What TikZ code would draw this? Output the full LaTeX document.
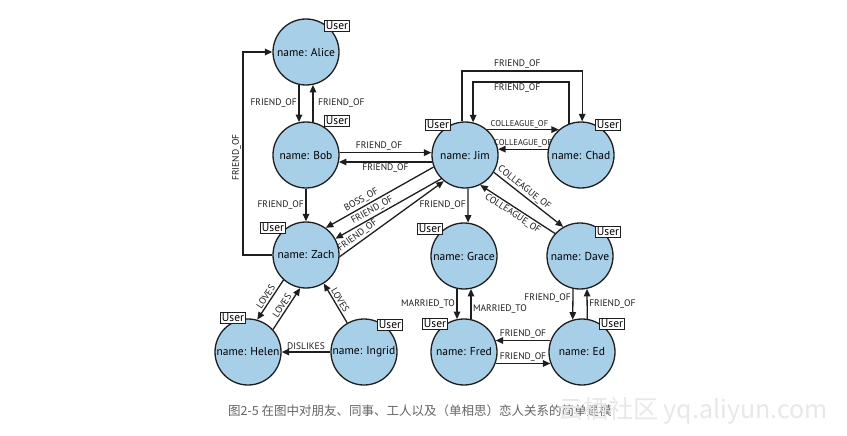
\documentclass[tikz,border=0pt]{standalone}
\usepackage{fontspec}
\setmainfont{PT Sans}
\newfontfamily\cjk{Noto Sans CJK SC}
\usetikzlibrary{arrows.meta,calc}
\definecolor{nodeblue}{RGB}{168,207,232}
\definecolor{capgray}{RGB}{100,100,100}
\definecolor{wmgray}{RGB}{232,232,232}
\definecolor{ink}{RGB}{30,30,30}
\begin{document}
\begin{tikzpicture}[x=1pt,y=-1pt,
  person/.style={circle,draw=ink,line width=1.3pt,fill=nodeblue,minimum size=66pt,inner sep=0pt,font=\fontsize{11.5}{14}\selectfont},
  userbox/.style={draw=ink,line width=1pt,fill=white,inner sep=1.5pt,font=\fontsize{11.5}{13}\selectfont},
  rel/.style={draw=ink,line width=1.3pt,-{Triangle[length=7.5pt,width=6.5pt]}},
  lbl/.style={font=\fontsize{9.5}{11}\selectfont,inner sep=1.5pt,text=ink},
  slbl/.style={font=\fontsize{8.5}{10}\selectfont,inner sep=1pt,text=ink},
]
\useasboundingbox (0,0) rectangle (847,436);
\fill[white] (0,0) rectangle (847,436);

% people
\node[person] (alice)  at (306,52)  {name: Alice};
\node[person] (bob)    at (306,155) {name: Bob};
\node[person] (zach)   at (306,255) {name: Zach};
\node[person] (jim)    at (465,155) {name: Jim};
\node[person] (chad)   at (581,155) {name: Chad};
\node[person] (grace)  at (464,256) {name: Grace};
\node[person] (dave)   at (580,256) {name: Dave};
\node[person] (helen)  at (248,352) {name: Helen};
\node[person] (ingrid) at (364,352) {name: Ingrid};
\node[person] (fred)   at (464,352) {name: Fred};
\node[person] (ed)     at (582,352) {name: Ed};

% helper coordinates
\coordinate (lx) at (243,0);
\coordinate (outertop) at (0,71);
\coordinate (innertop) at (0,82);

% Alice <-> Bob
\draw[rel] (alice.258) -- node[lbl,left] {FRIEND\_OF} (bob.102);
\draw[rel] (bob.78) -- node[lbl,right,xshift=3pt] {FRIEND\_OF} (alice.282);
% Bob <-> Jim
\draw[rel] (bob.4) -- node[lbl,above,pos=0.43] {FRIEND\_OF} (jim.176);
\draw[rel] (jim.192) -- node[lbl,below] {FRIEND\_OF} (bob.-12);
% Bob -> Zach
\draw[rel] (bob.south) -- node[lbl,left] {FRIEND\_OF} (zach.north);
% Zach -> Alice
\draw[rel] (zach.west) -- (zach.west -| lx) -- node[lbl,sloped,above,pos=0.48] {FRIEND\_OF} (alice.west -| lx) -- (alice.west);
% Jim <-> Zach
\draw[rel] (jim.201) -- node[lbl,sloped,above,pos=0.64] {BOSS\_OF} (zach.54);
\draw[rel] (jim.225) -- node[lbl,sloped,above,pos=0.62] {FRIEND\_OF} (zach.29);
\draw[rel] (zach.-3) -- node[lbl,sloped,above,pos=0.21] {FRIEND\_OF} (jim.231);
% Jim <-> Chad
\draw[rel] (jim.49) -- node[slbl,above,pos=0.45] {COLLEAGUE\_OF} (chad.131);
\draw[rel] (chad.170) -- node[slbl,above] {COLLEAGUE\_OF} (jim.10);
\draw[rel] (jim.95) -- (jim.95 |- outertop) -- node[lbl,above,pos=0.46] {FRIEND\_OF} (chad.88 |- outertop) -- (chad.88);
\draw[rel] (chad.111) -- (chad.111 |- innertop) -- node[lbl,below,pos=0.54] {FRIEND\_OF} (jim.76 |- innertop) -- (jim.76);
% Jim -> Grace
\draw[rel] (jim.-85) -- node[lbl,left] {FRIEND\_OF} (grace.83);
% Jim <-> Dave
\draw[rel] (jim.-31) -- node[lbl,sloped,above,pos=0.38] {COLLEAGUE\_OF} (dave.120);
\draw[rel] (dave.138) -- node[lbl,sloped,below,pos=0.52] {COLLEAGUE\_OF} (jim.-63);
% Grace <-> Fred
\draw[rel] (grace.258) -- node[lbl,left] {MARRIED\_TO} (fred.102);
\draw[rel] (fred.78) -- node[lbl,right,pos=0.34] {MARRIED\_TO} (grace.282);
% Dave <-> Ed
\draw[rel] (dave.258) -- node[lbl,left,pos=0.3] {FRIEND\_OF} (ed.106);
\draw[rel] (ed.81) -- node[lbl,right] {FRIEND\_OF} (dave.282);
% Ed <-> Fred
\draw[rel] (ed.160) -- node[lbl,above] {FRIEND\_OF} (fred.20);
\draw[rel] (fred.-20) -- node[lbl,above] {FRIEND\_OF} (ed.200);
% Zach <-> Helen
\draw[rel] (zach.228) -- node[lbl,sloped,above] {LOVES} (helen.74);
\draw[rel] (helen.42) -- node[lbl,sloped,above] {LOVES} (zach.260);
% Ingrid -> Zach
\draw[rel] (ingrid.120) -- node[lbl,sloped,above] {LOVES} (zach.-58);
% Ingrid -> Helen
\draw[rel] (ingrid.west) -- node[lbl,above] {DISLIKES} (helen.east);

% User labels
\node[userbox] (ualice)  at (337,26)  {User};
\node[userbox] (ubob)    at (337,121) {User};
\node[userbox] (ujim)    at (438,125) {User};
\node[userbox] (uchad)   at (608,125) {User};
\node[userbox] (uzach)   at (273,228) {User};
\node[userbox] (uhelen)  at (233,318) {User};
\node[userbox] (uingrid) at (390,325) {User};
\node[userbox] (ugrace)  at (430,229) {User};
\node[userbox] (udave)   at (608,232) {User};
\node[userbox] (ufred)   at (435,324) {User};
\node[userbox] (ued)     at (612,324) {User};

% caption and watermark
\node[anchor=west,inner sep=0pt,text=capgray,font=\cjk\fontsize{12.5}{14}\selectfont] (caption) at (228,411) {图2-5 在图中对朋友、同事、工人以及（单相思）恋人关系的简单建模};
\node[anchor=west,inner sep=0pt,text=wmgray,font=\cjk\fontsize{25}{28}\selectfont] (watermark) at (558,411) {云栖社区 yq.aliyun.com};
\end{tikzpicture}
\end{document}
